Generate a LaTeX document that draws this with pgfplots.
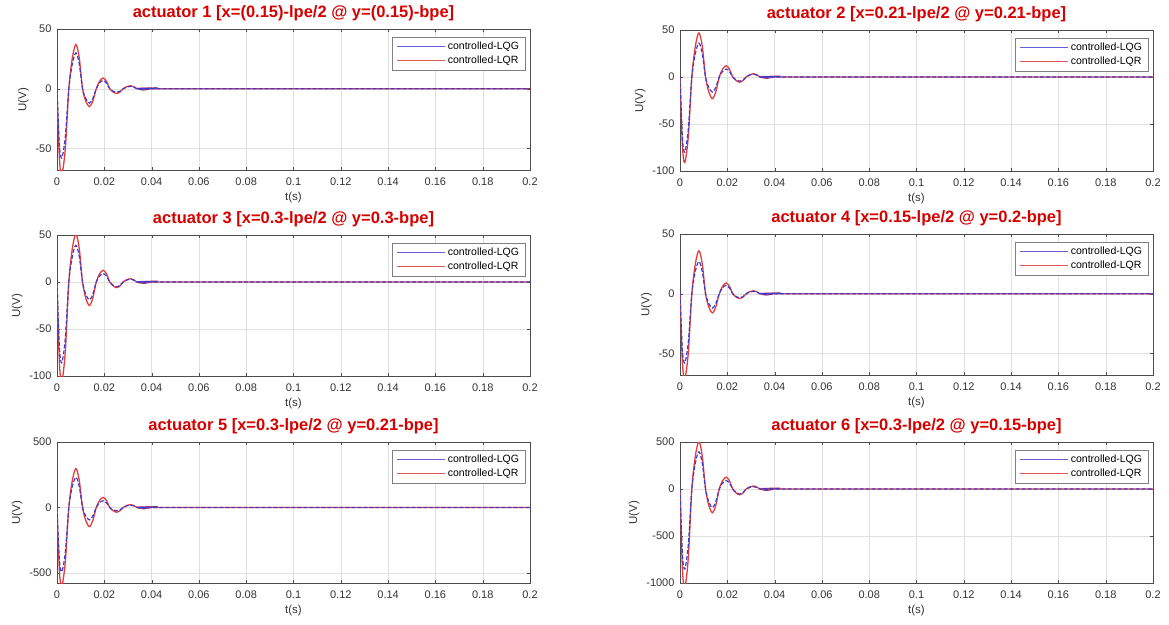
\documentclass[border=0pt]{standalone}
\usepackage{pgfplots}
\pgfplotsset{compat=1.18}
\usepackage{pgfplotstable}
\usepackage{fontspec}
\setmainfont{Liberation Sans}
\definecolor{lqgc}{RGB}{60,60,210}
\definecolor{lqrc}{RGB}{228,60,60}
\definecolor{lqgl}{RGB}{95,95,215}
\definecolor{lqrl}{RGB}{225,90,90}
\definecolor{ttl}{RGB}{215,0,0}

\pgfplotstableread{
t lqg lqr
0 0 0
0.001 -46.4 -57.6
0.002 -58 -72
0.0035 -40.6 -50.4
0.005 0 0
0.0065 21 25.9
0.008 30 37
0.0094 21 25.9
0.0108 0 0
0.0122 -8.4 -10.5
0.0137 -12 -15
0.0151 -8.4 -10.5
0.0166 0 0
0.018 4.9 6.3
0.0195 7 9
0.0209 4.9 6.3
0.0223 0 0
0.0238 -2.1 -2.8
0.0252 -3 -4
0.0266 -2.1 -2.8
0.028 0 0
0.0295 1.4 1.75
0.031 2 2.5
0.0324 1.4 1.75
0.0338 0 0
0.0367 -0.8 -1
0.0396 0 0
0.0425 0.6 0.7
0.045 0 0
0.2 0 0
}\tA

\pgfplotstableread{
t lqg lqr
0 0 0
0.001 -64 -72.8
0.002 -80 -91
0.0035 -56 -63.7
0.005 0 0
0.0065 25.2 32.9
0.008 36 47
0.0094 25.2 32.9
0.0108 0 0
0.0122 -11.2 -16.1
0.0137 -16 -23
0.0151 -11.2 -16.1
0.0166 0 0
0.018 5.95 8.4
0.0195 8.5 12
0.0209 5.95 8.4
0.0223 0 0
0.0238 -3.15 -3.85
0.0252 -4.5 -5.5
0.0266 -3.15 -3.85
0.028 0 0
0.0295 2.1 2.45
0.031 3 3.5
0.0324 2.1 2.45
0.0338 0 0
0.0367 -1 -1.3
0.0396 0 0
0.0425 0.6 0.8
0.045 0 0
0.2 0 0
}\tB

\pgfplotstableread{
t lqg lqr
0 0 0
0.001 -68.8 -84.8
0.002 -86 -106
0.0035 -60.2 -74.2
0.005 0 0
0.0065 27.3 35.7
0.008 39 51
0.0094 27.3 35.7
0.0108 0 0
0.0122 -13.3 -17.5
0.0137 -19 -25
0.0151 -13.3 -17.5
0.0166 0 0
0.018 6.3 8.75
0.0195 9 12.5
0.0209 6.3 8.75
0.0223 0 0
0.0238 -3.5 -4.2
0.0252 -5 -6
0.0266 -3.5 -4.2
0.028 0 0
0.0295 2.1 2.45
0.031 3 3.5
0.0324 2.1 2.45
0.0338 0 0
0.0367 -1.2 -1.5
0.0396 0 0
0.0425 0.7 0.8
0.045 0 0
0.2 0 0
}\tC

\pgfplotstableread{
t lqg lqr
0 0 0
0.001 -46.4 -56.8
0.002 -58 -71
0.0035 -40.6 -49.7
0.005 0 0
0.0065 18.9 25.2
0.008 27 36
0.0094 18.9 25.2
0.0108 0 0
0.0122 -8.4 -11.2
0.0137 -12 -16
0.0151 -8.4 -11.2
0.0166 0 0
0.018 4.9 6.3
0.0195 7 9
0.0209 4.9 6.3
0.0223 0 0
0.0238 -2.45 -2.8
0.0252 -3.5 -4
0.0266 -2.45 -2.8
0.028 0 0
0.0295 1.4 1.75
0.031 2 2.5
0.0324 1.4 1.75
0.0338 0 0
0.0367 -0.8 -1
0.0396 0 0
0.0425 0.5 0.6
0.045 0 0
0.2 0 0
}\tD

\pgfplotstableread{
t lqg lqr
0 0 0
0.001 -393.6 -480
0.002 -492 -600
0.0035 -344.4 -420
0.005 0 0
0.0065 161.7 207.9
0.008 231 297
0.0094 161.7 207.9
0.0108 0 0
0.0122 -66.5 -102.2
0.0137 -95 -146
0.0151 -66.5 -102.2
0.0166 0 0
0.018 35.7 53.9
0.0195 51 77
0.0209 35.7 53.9
0.0223 0 0
0.0238 -18.2 -25.2
0.0252 -26 -36
0.0266 -18.2 -25.2
0.028 0 0
0.0295 12.6 15.4
0.031 18 22
0.0324 12.6 15.4
0.0338 0 0
0.0367 -8 -10
0.0396 0 0
0.0425 5 6
0.045 0 0
0.2 0 0
}\tE

\pgfplotstableread{
t lqg lqr
0 0 0
0.001 -681.6 -840
0.002 -852 -1050
0.0035 -596.4 -735
0.005 0 0
0.0065 277.2 352.8
0.008 396 504
0.0094 277.2 352.8
0.0108 0 0
0.0122 -138.6 -176.4
0.0137 -198 -252
0.0151 -138.6 -176.4
0.0166 0 0
0.018 63 88.2
0.0195 90 126
0.0209 63 88.2
0.0223 0 0
0.0238 -37.8 -43.4
0.0252 -54 -62
0.0266 -37.8 -43.4
0.028 0 0
0.0295 17.5 22.4
0.031 25 32
0.0324 17.5 22.4
0.0338 0 0
0.0367 -12 -15
0.0396 0 0
0.0425 7 9
0.045 0 0
0.2 0 0
}\tF

\pgfplotsset{
  act/.style={
    scale only axis, width=473pt, height=141pt, anchor=north west,
    xmin=0, xmax=0.2,
    xtick={0,0.02,0.04,0.06,0.08,0.1,0.12,0.14,0.16,0.18,0.2},
    xticklabels={0,0.02,0.04,0.06,0.08,0.1,0.12,0.14,0.16,0.18,0.2},
    grid=major, grid style={black!12, line width=0.4pt},
    axis line style={black!70}, tick style={black!70},
    major tick length=3pt,
    ticklabel style={font=\fontsize{11}{13}\selectfont, text=black!80},
    xticklabel style={yshift=-4pt},
    yticklabel style={xshift=-2pt},
    xlabel={t(s)}, ylabel={U(V)},
    label style={font=\fontsize{11.5}{13}\selectfont, text=black!80},
    title style={font=\fontsize{16.5}{19}\selectfont\bfseries, text=ttl, yshift=-1pt},
    legend style={at={(0.99,0.945)}, anchor=north east, draw=black!50, fill=white,
      font=\fontsize{10.5}{12}\selectfont, inner xsep=4pt, inner ysep=3pt,
      row sep=1pt, cells={anchor=west}},
  },
  lqg/.style={color=lqgc, line width=1.2pt, dash pattern=on 4pt off 2pt, smooth},
  lqr/.style={color=lqrc, line width=1.3pt, smooth},
}

\newcommand{\curves}[1]{%
  \addlegendimage{legend image code/.code={\draw[draw=lqgl, line width=1.6pt] (0pt,0pt) -- (48pt,0pt);}}
  \addlegendentry{controlled-LQG}
  \addlegendimage{legend image code/.code={\draw[draw=lqrl, line width=1.3pt] (0pt,0pt) -- (48pt,0pt);}}
  \addlegendentry{controlled-LQR}
  \addplot[lqr, forget plot] table[x=t, y=lqr] {#1};
  \addplot[lqg, forget plot] table[x=t, y=lqg] {#1};
}

\begin{document}
\begin{tikzpicture}[x=1pt,y=1pt]
\path (0,0) rectangle (1169,-624);

\begin{axis}[act, at={(57pt,-29pt)}, ymin=-68, ymax=50,
  ytick={-50,0,50}, yticklabels={-50,0,50},
  title={actuator 1 [x=(0.15)-lpe/2 @ y=(0.15)-bpe]}]
\curves{\tA}
\end{axis}

\begin{axis}[act, at={(680pt,-30pt)}, ymin=-100, ymax=50,
  ytick={-100,-50,0,50}, yticklabels={-100,-50,0,50},
  title={actuator 2 [x=0.21-lpe/2 @ y=0.21-bpe]}]
\curves{\tB}
\end{axis}

\begin{axis}[act, at={(57pt,-235pt)}, ymin=-100, ymax=50,
  ytick={-100,-50,0,50}, yticklabels={-100,-50,0,50},
  title={actuator 3 [x=0.3-lpe/2 @ y=0.3-bpe]}]
\curves{\tC}
\end{axis}

\begin{axis}[act, at={(680pt,-234pt)}, ymin=-68, ymax=50,
  ytick={-50,0,50}, yticklabels={-50,0,50},
  title={actuator 4 [x=0.15-lpe/2 @ y=0.2-bpe]}]
\curves{\tD}
\end{axis}

\begin{axis}[act, at={(57pt,-442pt)}, ymin=-577, ymax=500,
  ytick={-500,0,500}, yticklabels={-500,0,500},
  title={actuator 5 [x=0.3-lpe/2 @ y=0.21-bpe]}]
\curves{\tE}
\end{axis}

\begin{axis}[act, at={(680pt,-442pt)}, ymin=-1000, ymax=500,
  ytick={-1000,-500,0,500}, yticklabels={-1000,-500,0,500},
  title={actuator 6 [x=0.3-lpe/2 @ y=0.15-bpe]}]
\curves{\tF}
\end{axis}
\end{tikzpicture}
\end{document}
